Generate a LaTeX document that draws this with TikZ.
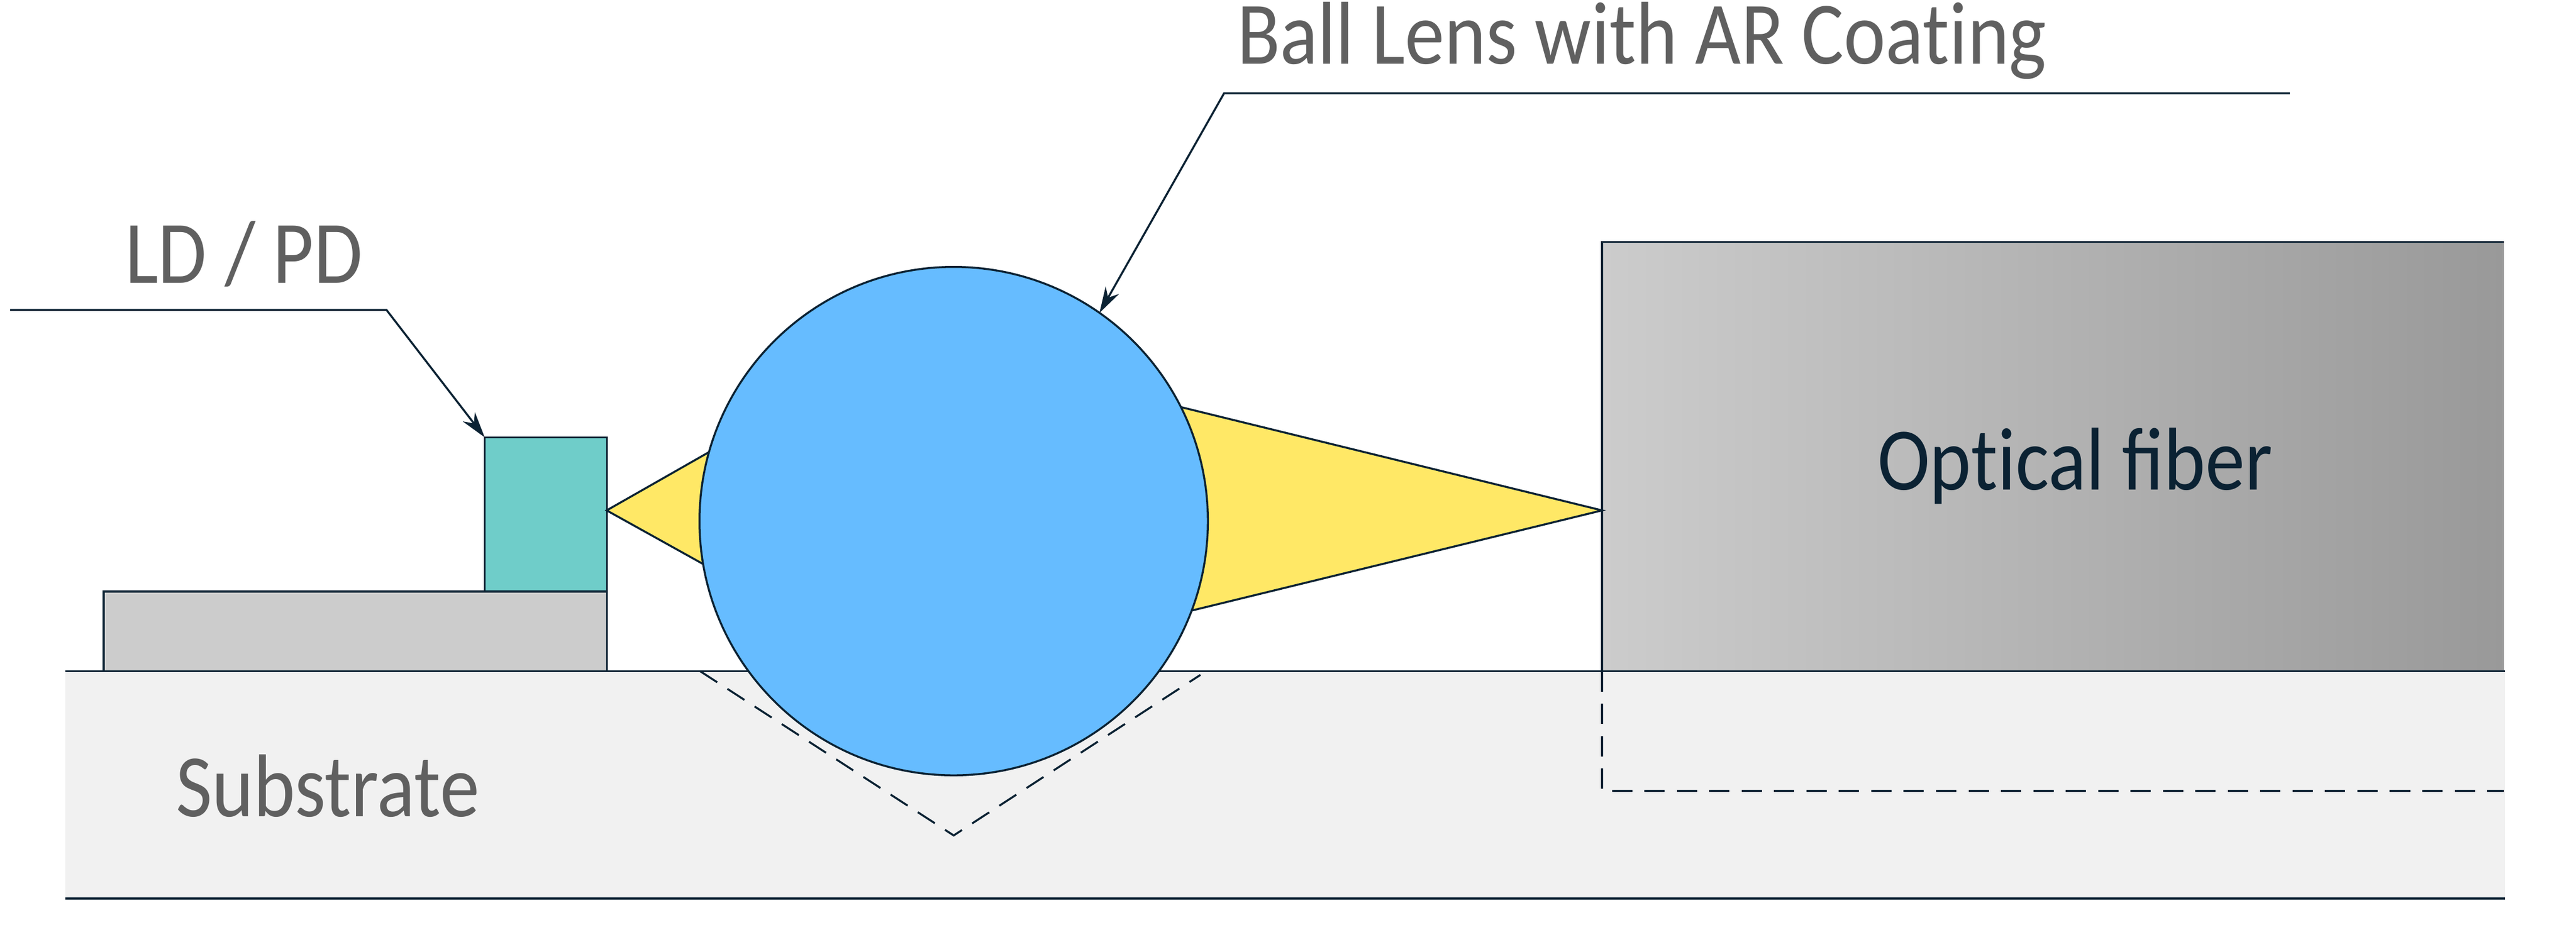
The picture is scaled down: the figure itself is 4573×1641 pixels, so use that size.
\documentclass[tikz,border=0pt]{standalone}
\usepackage{fontspec}
\setmainfont[FakeStretch=0.887]{Carlito}
\usetikzlibrary{arrows.meta}
\definecolor{ink}{HTML}{0B2233}
\definecolor{labelgray}{HTML}{606060}
\definecolor{subfill}{HTML}{F1F1F1}
\definecolor{mountfill}{HTML}{CCCCCC}
\definecolor{ldfill}{HTML}{6FCDC9}
\definecolor{ballfill}{HTML}{66BCFF}
\definecolor{beamfill}{HTML}{FFE866}
\tikzset{
  outline/.style={draw=ink,line width=1pt},
  block/.style={outline,rectangle,inner sep=0pt,outer sep=0pt},
  beam/.style={outline,fill=beamfill,line join=miter},
  hidden/.style={draw=ink,line width=1pt,dash pattern=on 0.36cm off 0.215cm},
  leader/.style={draw=ink,line width=1pt,-{Stealth[length=0.46cm,width=0.27cm,inset=0.15cm]}},
  caption/.style={inner sep=0pt,outer sep=0pt,anchor=base west,font=\fontsize{45}{54}\selectfont},
}
\begin{document}
\begin{tikzpicture}[x=0.01cm,y=-0.01cm]
\useasboundingbox (0,0) rectangle (4573,1641);
% substrate
\node[rectangle,fill=subfill,inner sep=0pt,outer sep=0pt,minimum width=43.28cm,minimum height=4.03cm,anchor=north west] (substrate) at (116,1191.5) {};
\draw[outline] (substrate.north west) -- (substrate.north east);
\draw[outline] (substrate.south west) -- (substrate.south east);
% hidden groove lines
\coordinate (vl) at (1243,1191.5);
\coordinate (va) at (1693,1483);
\coordinate (vr) at (2131,1198);
\draw[hidden] (vl) -- (va) -- (vr);
% fiber
\node[rectangle,left color=mountfill,right color=black!40,inner sep=0pt,outer sep=0pt,minimum width=16.0cm,minimum height=7.615cm,anchor=south west] (fiber) at (2844,1191.5) {};
\draw[outline] (fiber.north east) -- (fiber.north west) -- (fiber.south west) -- (fiber.south east);
\coordinate (fl) at (fiber.south west);
\coordinate (fd) at (2844,1404);
\coordinate (fe) at (fiber.south east |- fd);
\draw[hidden] (fl) -- (fd) -- (fe);
% mount and chip
\node[block,fill=mountfill,minimum width=8.93cm,minimum height=1.415cm,anchor=south west] (mount) at (184,1191.5) {};
\node[block,fill=ldfill,minimum width=2.17cm,minimum height=2.735cm,anchor=south east] (ld) at (mount.north east) {};
% beams
\coordinate (tipl) at (1077,906);
\coordinate (tipr) at (fiber.west |- tipl);
\draw[beam] (tipl) -- (1300,779) -- (1300,1030) -- cycle;
\draw[beam] (tipr) -- (2000,699) -- (2000,1112) -- cycle;
% ball
\node[circle,outline,fill=ballfill,inner sep=0pt,outer sep=0pt,minimum size=9.02cm] (ball) at (1693,925) {};
% leaders
\coordinate (a0) at (18,550);
\coordinate (a1) at (686,550);
\draw[leader] (a0) -- (a1) -- (ld.north west);
\coordinate (b0) at (4065,165.5);
\coordinate (b1) at (2173,165.5);
\draw[leader] (b0) -- (b1) -- (ball.55.2);
% labels
\node[caption,text=labelgray] (ldlabel) at (222,502) {LD / PD};
\node[caption,text=labelgray] (balllabel) at (2196,113) {Ball Lens with AR Coat\kern0pt ing};
\node[caption,text=labelgray] (sublabel) at (312,1449) {Substrate};
\node[caption,text=ink] (fiberlabel) at (3333,869) {Opt\kern0pt ical fiber};
\end{tikzpicture}
\end{document}
